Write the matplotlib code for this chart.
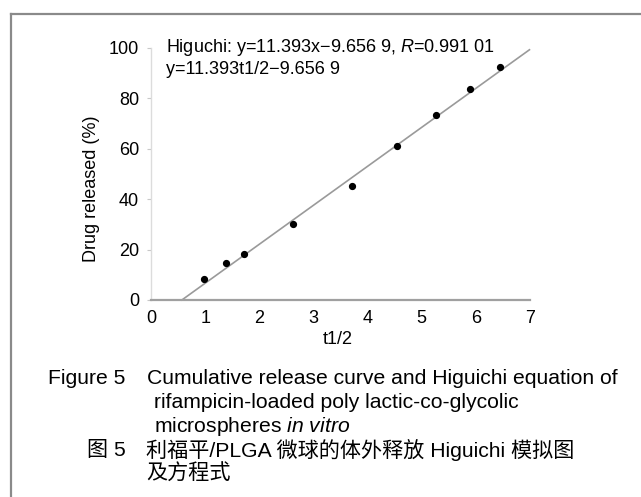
import matplotlib
matplotlib.use("Agg")
import matplotlib.pyplot as plt
from matplotlib.lines import Line2D

plt.rcParams['font.family'] = ['Liberation Sans', 'Noto Sans CJK SC', 'DejaVu Sans']
plt.rcParams['mathtext.fontset'] = 'custom'
plt.rcParams['mathtext.rm'] = 'Liberation Sans'
plt.rcParams['mathtext.it'] = 'Liberation Sans:italic'

# data (x = t^1/2)
t_half = [0.97, 1.39, 1.71, 2.62, 3.71, 4.55, 5.26, 5.90, 6.45]
released = [8.2, 14.7, 18.2, 30.3, 45.4, 61.3, 73.4, 83.7, 92.5]

# fitted line as drawn
fit_x = [0.57, 6.99]
fit_y = [0.0, 99.3]

y_ticks = [0, 20, 40, 60, 80, 100]
x_ticks = [0, 1, 2, 3, 4, 5, 6, 7]

W, H = 641, 497
fig = plt.figure(figsize=(W / 100, H / 100), dpi=100)
ax = fig.add_axes([151 / W, 1 - 300 / H, (530 - 151) / W, (300 - 48) / H])

ax.plot(fit_x, fit_y, color='#9a9a9a', lw=1.2, clip_on=False)
ax.plot(t_half, released, 'o', color='black', ms=4.2, clip_on=False)

fs = 13
ax.set_xlim(0, 7)
ax.set_ylim(0, 100)
ax.set_xticks(x_ticks)
ax.set_yticks(y_ticks)
ax.tick_params(axis='x', length=0, pad=7, labelsize=fs)
ax.tick_params(axis='y', length=3, color='#c8c8c8', pad=5.5, labelsize=fs)

for s in ['top', 'right']:
    ax.spines[s].set_visible(False)
ax.spines['left'].set_color('#dcdcdc')
ax.spines['left'].set_linewidth(1.0)
ax.spines['bottom'].set_color('#a0a0a0')
ax.spines['bottom'].set_linewidth(1.6)

fig.text(91 / W, 1 - 189 / H, 'Drug released (%)', rotation=90,
         ha='center', va='center', fontsize=fs)
fig.text(338 / W, 1 - 340 / H, 't1/2', ha='center', va='center', fontsize=fs)

# equation text
fig.text(166 / W, 1 - 48 / H, 'Higuchi: y=11.393x\u22129.656 9, $\\mathit{R}$=0.991 01',
         ha='left', va='center', fontsize=fs)
fig.text(166 / W, 1 - 70 / H, 'y=11.393t1/2\u22129.656 9',
         ha='left', va='center', fontsize=fs)

# caption
cap = 15.2
fig.text(48 / W, 1 - 378 / H, 'Figure 5', ha='left', va='center', fontsize=cap)
fig.text(147 / W, 1 - 378 / H, 'Cumulative release curve and Higuichi equation of',
         ha='left', va='center', fontsize=cap)
fig.text(154 / W, 1 - 402.5 / H, 'rifampicin-loaded poly lactic-co-glycolic',
         ha='left', va='center', fontsize=cap)
fig.text(154 / W, 1 - 426.5 / H, 'microspheres $\\mathit{in}$ $\\mathit{vitro}$',
         ha='left', va='center', fontsize=cap)
fig.text(87 / W, 1 - 450 / H, '图 5', ha='left', va='center', fontsize=cap)
fig.text(146 / W, 1 - 450 / H, '利福平/PLGA 微球的体外释放 Higuichi 模拟图',
         ha='left', va='center', fontsize=cap)
fig.text(146 / W, 1 - 473.5 / H, '及方程式', ha='left', va='center', fontsize=cap)

# frame around the figure
fig.add_artist(Line2D([11 / W, 1], [1 - 14 / H, 1 - 14 / H], transform=fig.transFigure,
                      color='#8a8a8a', lw=1.6))
fig.add_artist(Line2D([11 / W, 11 / W], [0, 1 - 14 / H], transform=fig.transFigure,
                      color='#8a8a8a', lw=1.6))

fig.savefig('out.png', dpi=100)
